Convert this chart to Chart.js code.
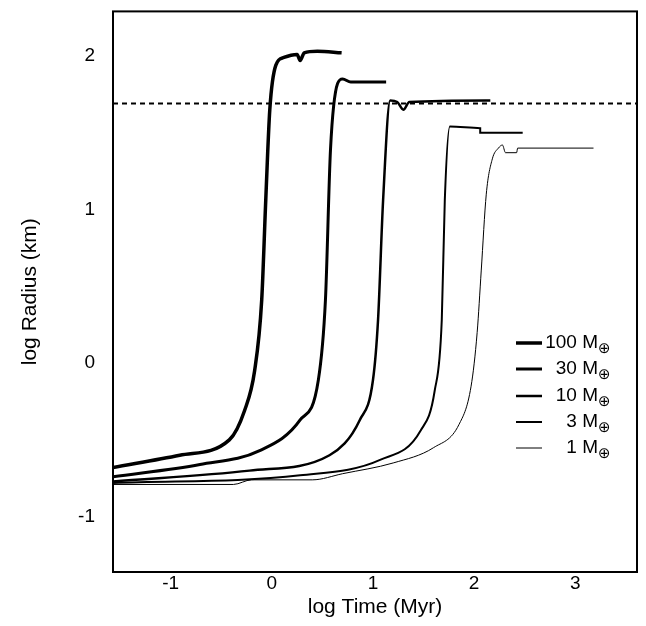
<!DOCTYPE html>
<html>
<head>
<meta charset="utf-8">
<script src="https://cdn.jsdelivr.net/npm/chart.js@4"></script>
<style>
  body { margin: 0; background: #fff; overflow: hidden; }
  #wrap { width: 646px; height: 626px; overflow: hidden; }
  #c { display: block; margin-top: -18px; }
</style>
</head>
<body>
<div id="wrap"><canvas id="c" width="646" height="644"></canvas></div>
<script>
// log Time (Myr) / log Radius (km)
var masses = ['100', '30', '10', '3', '1'];
var widths = [3.5, 3, 2.5, 2, 1];

var t100 = [-1.57, -0.91, -0.42, -0.27, -0.17, -0.10, -0.06, -0.02, 0.04, 0.12, 0.25, 0.28, 0.32, 0.45, 0.69];
var r100 = [-0.68, -0.60, -0.50, -0.31, -0.05, 0.41, 1.06, 1.65, 1.94, 1.99, 2.01, 1.97, 2.02, 2.03, 2.02];

var t30 = [-1.57, -0.71, -0.12, 0.28, 0.46, 0.53, 0.58, 0.65, 0.70, 0.78, 1.13];
var r30 = [-0.74, -0.66, -0.57, -0.37, -0.11, 0.41, 1.39, 1.82, 1.85, 1.83, 1.83];

var t10 = [-1.57, -0.22, 0.57, 0.87, 1.00, 1.05, 1.10, 1.17, 1.24, 1.30, 1.36, 2.16];
var r10 = [-0.77, -0.70, -0.60, -0.37, -0.11, 0.28, 1.06, 1.71, 1.70, 1.65, 1.70, 1.71];

var t3 = [-1.57, 0.28, 1.07, 1.47, 1.61, 1.68, 1.71, 1.76, 2.06, 2.06, 2.48];
var r3 = [-0.78, -0.73, -0.63, -0.44, -0.18, 0.28, 1.06, 1.54, 1.53, 1.50, 1.50];

var t1 = [-1.57, -0.38, -0.20, 0.40, 0.70, 1.20, 1.60, 1.85, 1.97, 2.03, 2.07, 2.12, 2.18, 2.24, 2.28, 2.31, 2.42, 2.43, 3.18];
var r1 = [-0.79, -0.79, -0.76, -0.76, -0.72, -0.65, -0.55, -0.40, -0.15, 0.20, 0.60, 1.10, 1.33, 1.40, 1.42, 1.37, 1.37, 1.40, 1.40];

var dashT = [-1.57, 3.61];
var dashR = [1.69, 1.69];

var xTicks = [-1, 0, 1, 2, 3];
var yTicks = [-1, 0, 1, 2];

function pts(xs, ys) {
    return xs.map(function(x, i) { return { x: x, y: ys[i] }; });
}

var series = [pts(t100, r100), pts(t30, r30), pts(t10, r10), pts(t3, r3), pts(t1, r1)];

var datasets = series.map(function(d, i) {
    return {
        label: masses[i] + ' M',
        data: d,
        borderColor: '#000',
        borderWidth: widths[i],
        pointRadius: 0,
        cubicInterpolationMode: 'monotone',
        fill: false
    };
});
datasets.push({
    label: 'dash',
    data: pts(dashT, dashR),
    borderColor: '#000',
    borderWidth: 2,
    borderDash: [5, 4],
    pointRadius: 0,
    fill: false
});

// legend rows sit 18px lower on the canvas because it is shifted up
var legendPlugin = {
    id: 'massLegend',
    afterDraw: function(chart) {
        var c = chart.ctx;
        var rows = [361, 387, 414, 440, 466];
        c.save();
        c.fillStyle = '#000';
        c.strokeStyle = '#000';
        masses.forEach(function(m, i) {
            var y = rows[i];
            c.lineWidth = widths[i];
            c.beginPath();
            c.moveTo(516, y);
            c.lineTo(542, y);
            c.stroke();
            c.font = '19px "Liberation Sans", Arial, sans-serif';
            c.textAlign = 'right';
            c.textBaseline = 'middle';
            c.fillText(m + ' M', 598, y);
            c.font = '15px "DejaVu Sans", sans-serif';
            c.textAlign = 'left';
            c.fillText('\u2295', 598, y + 6);
        });
        c.restore();
    }
};

var frame = {
    id: 'frame',
    afterDraw: function(chart) {
        var a = chart.chartArea, c = chart.ctx;
        c.save();
        c.strokeStyle = '#000';
        c.lineWidth = 2;
        c.strokeRect(a.left, a.top, a.right - a.left, a.bottom - a.top);
        c.restore();
    }
};

new Chart(document.getElementById('c'), {
    type: 'line',
    data: { datasets: datasets },
    plugins: [legendPlugin, frame],
    options: {
        responsive: false,
        animation: false,
        layout: { padding: { top: 0, right: 9, bottom: 0, left: 18 } },
        plugins: { legend: { display: false }, tooltip: { enabled: false } },
        scales: {
            x: {
                type: 'linear',
                min: -1.57,
                max: 3.61,
                afterBuildTicks: function(s) { s.ticks = xTicks.map(function(v) { return { value: v }; }); },
                afterFit: function(s) { s.height = 54; },
                grid: { display: false, drawTicks: false },
                border: { display: false },
                ticks: { color: '#000', padding: 0, font: { size: 19, family: 'Liberation Sans' } },
                title: { display: true, text: 'log Time (Myr)', color: '#000', padding: { top: 0, bottom: 6 }, font: { size: 21, family: 'Liberation Sans' } }
            },
            y: {
                type: 'linear',
                min: -1.36,
                max: 2.29,
                afterBuildTicks: function(s) { s.ticks = yTicks.map(function(v) { return { value: v }; }); },
                afterFit: function(s) { s.width = 95; },
                grid: { display: false, drawTicks: false },
                border: { display: false },
                ticks: { color: '#000', padding: 18, font: { size: 19, family: 'Liberation Sans' } },
                title: { display: true, text: 'log Radius (km)', color: '#000', padding: 0, font: { size: 21, family: 'Liberation Sans' } }
            }
        }
    }
});
</script>
</body>
</html>
